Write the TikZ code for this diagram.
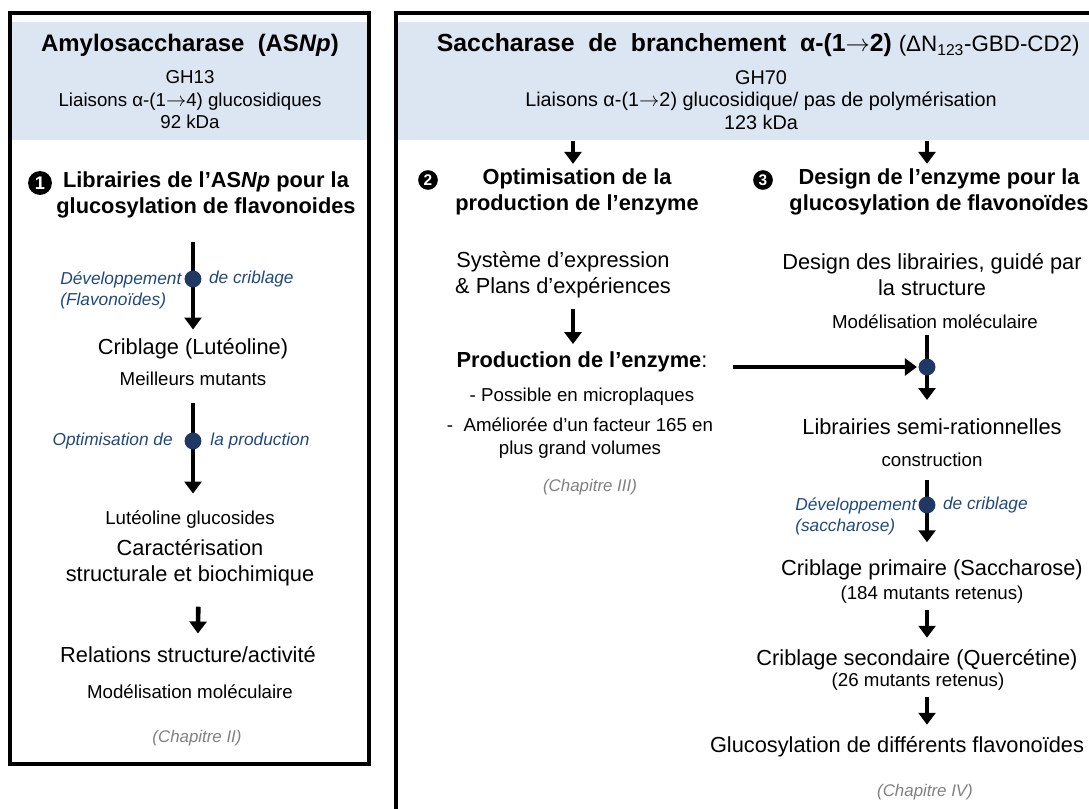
\documentclass[tikz,border=0pt]{standalone}
\usepackage{fontspec}
\setmainfont{Liberation Sans}
\usetikzlibrary{arrows.meta,positioning}
\definecolor{bandblue}{HTML}{DCE6F2}
\definecolor{hubblue}{HTML}{1F3864}
\definecolor{noteblue}{HTML}{1F497D}
\definecolor{chapgray}{HTML}{808080}
\newcommand{\bondarrow}{\ensuremath{\rightarrow}}
\tikzset{
  panel/.style={draw=black, line width=2.2pt},
  band/.style={fill=bandblue, draw=none},
  bigtitle/.style={font=\bfseries\fontsize{17}{20}\selectfont},
  sectitle/.style={font=\bfseries\fontsize{15.5}{18.5}\selectfont, align=center},
  bodytext/.style={font=\fontsize{15.5}{18.5}\selectfont, align=center},
  smalltext/.style={font=\fontsize{13.3}{16.4}\selectfont, align=center},
  headtext/.style={font=\fontsize{13.3}{16}\selectfont, align=center},
  notetext/.style={font=\itshape\fontsize{12.3}{15}\selectfont, text=noteblue, inner sep=0pt},
  chaptext/.style={font=\itshape\fontsize{12}{14}\selectfont, text=chapgray},
  flow/.style={line width=3.3pt, -{Triangle[width=12pt,length=8.5pt]}},
  hub/.style={circle, fill=hubblue, minimum size=12pt, inner sep=0pt},
  stepnum/.style={circle, fill=black, text=white, inner sep=0pt, font=\bfseries},
}

\begin{document}
\begin{tikzpicture}[x=0.025cm, y=-0.025cm]
    \useasboundingbox (0,0) rectangle (1089,808);

    % panels and header bands
    \fill[band] (12,22) rectangle (367,140);
    \fill[band] (398,22) rectangle (1100,140);
    \draw[panel] (10,13) rectangle (369,764);
    \draw[panel] (396,13) rectangle (1110,830);

    % AS-Np panel
    \node[bigtitle] (ltitle) at (190,45) {Amylosaccharase~ (AS\textit{Np})};
    \node[headtext] (lsub) at (190,100) {GH13\\Liaisons α-(1\bondarrow4) glucosidiques\\92 kDa};
    \node[stepnum, minimum size=17pt, font=\bfseries\fontsize{13}{13}\selectfont] (num1) at (40,183) {1};
    \node[sectitle] (lsec) at (206,195) {Librairies de l’AS\textit{Np} pour la\\glucosylation de flavonoides};

    \coordinate (l1top) at (193,242);
    \node[bodytext] (crib1) at (193,349) {Criblage (Lutéoline)};
    \node[smalltext] (best) at (193,379) {Meilleurs mutants};
    \draw[flow, shorten >=3pt] (l1top) -- (crib1);
    \node[hub] (d1) at (193,279) {};
    \node[notetext, align=left, anchor=west] (n1a) at (60,290) {Développement\\(Flavonoïdes)};
    \node[notetext, anchor=west] (n1b) at ([xshift=5pt]d1.east) {de criblage};

    \coordinate (l2top) at (193,403);
    \node[smalltext] (lutgl) at (190,520) {Lutéoline glucosides};
    \draw[flow, shorten >=9pt] (l2top) -- (l2top |- lutgl.north);
    \node[hub] (d2) at (193,441) {};
    \node[notetext, anchor=east] (n2a) at ([xshift=-8pt]d2.west) {Optimisation de};
    \node[notetext, anchor=west] (n2b) at ([xshift=6pt]d2.east) {la production};

    \node[bodytext] (carac) at (190,563) {Caractérisation\\structurale et biochimique};
    \node[bodytext] (relat) at (188,655) {Relations structure/activité};
    \draw[flow, shorten <=11pt, shorten >=6pt] ([xshift=6pt]carac.south) -- ([xshift=7pt]relat.north);
    \node[smalltext] (modm1) at (190,692) {Modélisation moléculaire};
    \node[chaptext] (chap2) at (197,738) {(Chapitre II)};

    % branching sucrase panel
    \node[bigtitle, font=\bfseries\fontsize{17.6}{20}\selectfont, anchor=west] (rtitle) at (432,45)
        {Saccharase~ de~ branchement~ α-(1\bondarrow2) {\mdseries\fontsize{15.9}{20}\selectfont (ΔN\textsubscript{123}-GBD-CD2)}};
    \node[headtext, font=\fontsize{14.1}{16.2}\selectfont] (rsub) at (761,100) {GH70\\Liaisons α-(1\bondarrow2) glucosidique/ pas de polymérisation\\123 kDa};

    \coordinate (h2) at (573,141);
    \coordinate (h3) at (927,141);
    \node[stepnum, minimum size=14pt, font=\bfseries\fontsize{11}{11}\selectfont] (num2) at (428,180) {2};
    \node[sectitle] (sec2) at (577,192) {Optimisation de la\\production de l’enzyme};
    \node[stepnum, minimum size=14pt, font=\bfseries\fontsize{11}{11}\selectfont] (num3) at (763,180) {3};
    \node[sectitle] (sec3) at (939,192) {Design de l’enzyme pour la\\glucosylation de flavonoïdes};
    \draw[flow] (h2) -- (h2 |- sec2.north);
    \draw[flow] (h3) -- (h3 |- sec3.north);

    % production column
    \node[bodytext] (syst) at (563,275) {Système d’expression\\\& Plans d’expériences};
    \node[bodytext] (prod) at (582,362) {\textbf{Production de l’enzyme}:};
    \draw[flow, shorten <=4pt, shorten >=2pt] (syst.south -| h2) -- (prod.north -| h2);
    \node[smalltext] (poss) at (582,397) {- Possible en microplaques};
    \node[smalltext] (amel) at (580,438) {-~ Améliorée d’un facteur 165 en\\plus grand volumes};
    \node[chaptext] (chap3) at (590,487) {(Chapitre III)};

    % design column
    \node[bodytext] (desl) at (932,275) {Design des librairies, guidé par\\la structure};
    \node[smalltext] (modm2) at (935,322) {Modélisation moléculaire};
    \coordinate (r1top) at (927,335);
    \node[bodytext] (semi) at (932,427) {Librairies semi-rationnelles};
    \draw[flow, shorten >=10pt] (r1top) -- (r1top |- semi.north);
    \coordinate (hstart) at (733,367);
    \node[hub] (d3) at (927,367) {};
    \draw[flow, shorten >=1pt] (hstart) -- (d3.west);
    \node[smalltext] (constr) at (932,460) {construction};

    \coordinate (r2top) at (927,480);
    \node[bodytext] (crib2) at (932,570) {Criblage primaire (Saccharose)};
    \draw[flow, shorten >=9pt] (r2top) -- (r2top |- crib2.north);
    \node[hub] (d4) at (927,505) {};
    \node[notetext, align=left, anchor=west] (n4a) at (795,516) {Développement\\(saccharose)};
    \node[notetext, anchor=west] (n4b) at ([xshift=5pt]d4.east) {de criblage};
    \node[smalltext] (ret184) at (932,595) {(184 mutants retenus)};

    \node[bodytext] (crib3) at (917,660) {Criblage secondaire (Quercétine)};
    \node[smalltext] (ret26) at (918,682) {(26 mutants retenus)};
    \draw[flow, shorten <=1pt, shorten >=5pt] (ret184.south -| h3) -- (crib3.north -| h3);
    \node[bodytext] (gluco) at (897,747) {Glucosylation de différents flavonoïdes};
    \draw[flow, shorten <=1pt, shorten >=5pt] (ret26.south -| h3) -- (gluco.north -| h3);
    \node[chaptext] (chap4) at (925,792) {(Chapitre IV)};
\end{tikzpicture}
\end{document}
